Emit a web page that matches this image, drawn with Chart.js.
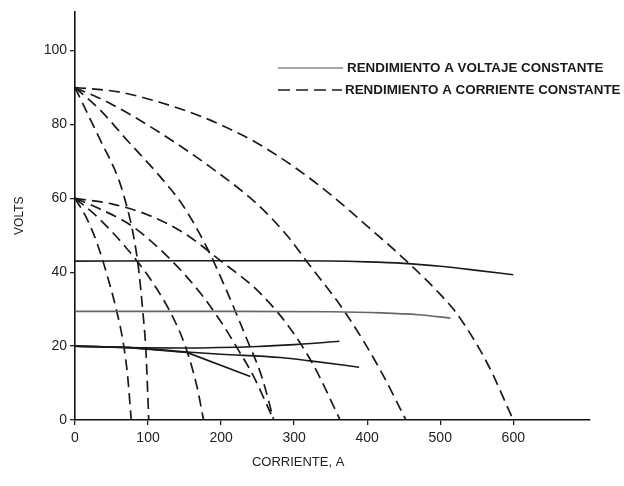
<!DOCTYPE html>
<html><head><meta charset="utf-8">
<script src="https://cdn.jsdelivr.net/npm/chart.js@4/dist/chart.umd.min.js"></script>
<style>html,body{margin:0;padding:0;background:#fff}#wrap{width:624px;height:486px}</style>
</head><body><div id="wrap"><canvas id="c" width="624" height="486"></canvas></div>
<script>
// ---- tick labels / texts ----
const xTicks = [0, 100, 200, 300, 400, 500, 600];
const yTicks = [0, 20, 40, 60, 80, 100];
const xTitle = 'CORRIENTE, A';
const yTitle = 'VOLTS';
const legendLabels = ['RENDIMIENTO A VOLTAJE CONSTANTE', 'RENDIMIENTO A CORRIENTE CONSTANTE'];

// ---- constant-voltage characteristics (solid) [A, V] ----
const cv42  = [[0,43],[150,43.1],[300,43.1],[400,42.8],[450,42.4],[500,41.6],[550,40.5],[600,39.3]];
const cv29  = [[0,29.4],[200,29.4],[350,29.3],[420,29],[470,28.5],[514,27.6]];
const cv20a = [[0,20],[75,19.6],[150,19.5],[250,19.9],[300,20.4],[362,21.3]];
const cv20b = [[0,20],[75,19.6],[153,18.3],[240,11.8]];
const cv20c = [[0,20],[75,19.6],[153,18.4],[200,17.8],[281,16.9],[322,16],[389,14.3]];

// ---- constant-current characteristics (dashed) [A, V] ----
const cc90a = [[0,90],[34,76],[60,65],[72,57],[80,50],[87,41],[93,29],[97,19],[101,0]];
const cc90b = [[0,90],[34,84],[71,75.8],[116,66],[148,58],[181,46.5],[208,34.8],[235,22],[256,11.5],[272,0]];
const cc90c = [[0,90],[50,85.5],[116,77.8],[185,68.5],[249,58.5],[290,50],[317,43],[372,28.5],[418,13.5],[453,0]];
const cc90d = [[0,90],[60,88.8],[116,86],[171,82.3],[220,78],[249,75],[300,68.5],[350,61],[400,52.5],[455,42.8],[500,34],[523,28.7],[564,15.5],[600,0]];
const cc60a = [[0,60],[15,55],[30,48],[45,38.5],[57,29.5],[66,21],[72,12],[77,0]];
const cc60b = [[0,60],[25,56],[55,50],[85,43],[107,37],[131,29],[151,20],[167,9],[176,0]];
const cc60c = [[0,60],[30,57.5],[78,52.5],[130,43.6],[171,34.5],[200,26.5],[225,18.5],[244,12],[272,0]];
const cc60d = [[0,60],[50,58.5],[100,55.5],[150,50.5],[200,43],[250,35],[290,26],[326,15],[363,0]];

const solidSeries = [cv42, cv29, cv20a, cv20b, cv20c];
const dashedSeries = [cc90a, cc90b, cc90c, cc90d, cc60a, cc60b, cc60c, cc60d];

const FONT = '"Liberation Sans", Arial, Helvetica, sans-serif';
const toXY = s => s.map(([x, y]) => ({x, y}));

const datasets = [];
solidSeries.forEach(s => datasets.push({
  data: toXY(s), showLine: true, pointRadius: 0,
  borderColor: s === cv29 ? '#666' : '#1a1a1a', borderWidth: 1.6,
  tension: s === cv20b ? 0 : 0.4,
  cubicInterpolationMode: s === cv20b ? 'default' : 'monotone'
}));
dashedSeries.forEach(s => datasets.push({
  data: toXY(s), showLine: true, pointRadius: 0,
  borderColor: '#1a1a1a', borderWidth: 1.7, borderDash: [11, 6],
  cubicInterpolationMode: 'monotone'
}));

const annot = {
  id: 'annot',
  afterDraw(chart) {
    const ctx = chart.ctx, xs = chart.scales.x;
    ctx.save();
    // x-axis title centred under the labelled range
    ctx.font = '13px ' + FONT;
    ctx.fillStyle = '#222';
    ctx.textAlign = 'center';
    ctx.textBaseline = 'middle';
    const cx = (xs.getPixelForValue(xTicks[0]) + xs.getPixelForValue(xTicks[xTicks.length - 1])) / 2 + 4;
    ctx.fillText(xTitle, cx, 462);
    // legend
    const rows = [68, 90];
    ctx.font = 'bold 13.4px ' + FONT;
    ctx.textAlign = 'left';
    legendLabels.forEach((t, i) => {
      ctx.beginPath();
      ctx.lineWidth = i === 0 ? 1.6 : 1.7;
      ctx.strokeStyle = i === 0 ? '#888' : '#1a1a1a';
      ctx.setLineDash(i === 0 ? [] : [12, 6]);
      ctx.moveTo(278, rows[i]);
      ctx.lineTo(i === 0 ? 343 : 342, rows[i]);
      ctx.stroke();
      ctx.setLineDash([]);
      ctx.fillStyle = '#1a1a1a';
      ctx.fillText(t, i === 0 ? 347 : 345, rows[i]);
    });
    ctx.restore();
  }
};

new Chart(document.getElementById('c'), {
  type: 'scatter',
  data: { datasets },
  options: {
    responsive: false, animation: false,
    layout: { padding: { top: 7, right: 34, left: 0, bottom: 0 } },
    plugins: { legend: { display: false }, tooltip: { enabled: false } },
    scales: {
      x: {
        type: 'linear', min: 0, max: 705,
        afterBuildTicks: sc => { sc.ticks = xTicks.map(v => ({value: v})); },
        afterFit: sc => { sc.height = 66; },
        ticks: { color: '#222', font: { family: FONT, size: 14 }, padding: 5, maxRotation: 0 },
        grid: { drawOnChartArea: false, tickLength: 5, color: '#222', lineWidth: 1.3 },
        border: { display: true, color: '#111', width: 1.6 }
      },
      y: {
        type: 'linear', min: 0, max: 110.6,
        afterBuildTicks: sc => { sc.ticks = yTicks.map(v => ({value: v})); },
        afterFit: sc => { sc.width = 75; },
        ticks: { color: '#222', font: { family: FONT, size: 14 }, padding: 3 },
        grid: { drawOnChartArea: false, tickLength: 5, color: '#222', lineWidth: 1.3 },
        border: { display: true, color: '#111', width: 1.6 },
        title: { display: true, text: yTitle, color: '#222', font: { family: FONT, size: 12 }, padding: { top: 12, bottom: 0 } }
      }
    }
  },
  plugins: [annot]
});
</script>
</body></html>
